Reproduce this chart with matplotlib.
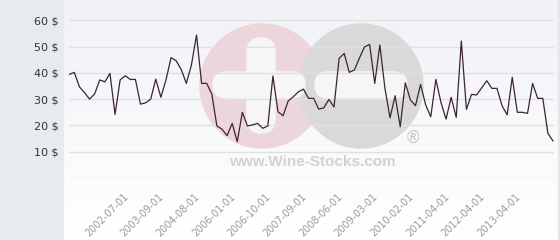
import numpy as np
import matplotlib
matplotlib.use('Agg')
import matplotlib.pyplot as plt
from matplotlib.patches import Circle, FancyBboxPatch, Rectangle
from matplotlib.transforms import ScaledTranslation

# prices per trade
prices = [39.4, 40.2, 34.7, 32.5, 30.0, 32.0, 37.3, 36.6, 39.8, 24.2,
          37.3, 38.9, 37.5, 37.5, 28.1, 28.6, 30.0, 37.6, 30.7, 37.3,
          45.8, 44.6, 41.3, 36.0, 43.0, 54.4, 36.0, 36.0, 31.9, 19.8,
          18.6, 16.1, 20.8, 13.8, 25.0, 19.8, 20.2, 20.8, 18.9, 19.8,
          38.8, 25.2, 23.7, 29.3, 30.9, 32.8, 33.8, 30.3, 30.3, 26.2,
          26.7, 29.9, 27.0, 45.5, 47.4, 40.2, 41.1, 45.7, 49.9, 50.8,
          36.0, 50.6, 34.1, 22.9, 31.3, 19.5, 36.2, 29.7, 27.5, 35.6,
          27.8, 23.3, 37.5, 28.8, 22.4, 30.7, 23.1, 52.1, 26.1, 31.8,
          31.6, 34.3, 37.0, 34.1, 34.1, 27.5, 24.0, 38.3, 25.0, 25.0,
          24.6, 36.0, 30.3, 30.3, 17.0, 14.1]
date_labels = ['2002-07-01', '2003-09-01', '2004-08-01', '2006-01-01',
               '2006-10-01', '2007-09-01', '2008-06-01', '2009-03-01',
               '2010-02-01', '2011-04-01', '2012-04-01', '2013-04-01']
label_idx = [10, 17, 24, 31, 38, 45, 52, 59, 66, 73, 80, 87]
y_ticks = [0, 10, 20, 30, 40, 50, 60]

W, H = 560, 240
fig = plt.figure(figsize=(W/100, H/100), dpi=100)

# background + watermark, in pixel coords
bg = fig.add_axes([0, 0, 1, 1])
bg.set_xlim(0, W)
bg.set_ylim(H, 0)
bg.axis('off')
grad = np.linspace(0, 1, 100).reshape(-1, 1)
bg.imshow(grad, extent=[63, W, H, 0], cmap=matplotlib.colors.LinearSegmentedColormap.from_list(
    'g', ['#f1f2f7', '#ffffff']), aspect='auto', zorder=0)
bg.add_patch(Rectangle((0, 0), 63, H, color='#e7ebee', zorder=1))
bg.add_patch(Rectangle((558, 0), 2, H, color='#e4e6ea', zorder=1))

bg.add_patch(Circle((262, 86), 62, color='#ecd6dc', zorder=2))
bg.add_patch(Circle((361, 86), 62, color='#d9d9d9', zorder=2))
wc = '#f6f6f9'
bg.add_patch(FancyBboxPatch((247, 38), 28, 95, boxstyle='round,pad=0,rounding_size=14',
                            color=wc, zorder=3))
bg.add_patch(FancyBboxPatch((213, 72), 92, 26, boxstyle='round,pad=0,rounding_size=13',
                            color=wc, zorder=3))
bg.add_patch(FancyBboxPatch((315, 72), 92, 26, boxstyle='round,pad=0,rounding_size=13',
                            color=wc, zorder=3))
bg.text(312, 162, 'www.Wine-Stocks.com', ha='center', va='center', fontsize=11,
        fontweight='bold', family='Liberation Sans', color='#d2d2d2', zorder=3)
bg.text(413, 138, '®', ha='center', va='center', fontsize=12,
        color='#c8c8c8', zorder=3)

# main chart
x = np.arange(len(prices))
ax = fig.add_axes([68.7/W, 1-178/H, (554-68.7)/W, (178-20.3)/H])
ax.set_facecolor('none')
ax.plot(x, prices, color='#3d2431', lw=0.9, zorder=3)
ax.set_xlim(-0.1, len(prices)-1+0.2)
ax.set_ylim(0, 60)
for s in ax.spines.values():
    s.set_visible(False)
ax.set_yticks(y_ticks)
ax.set_yticklabels(['' if v == 0 else f'{v} $' for v in y_ticks])
ax.yaxis.grid(True, color='#e0e0e0', lw=1)
ax.tick_params(axis='y', length=0, pad=7, labelsize=8, labelcolor='#333333')
ax.set_xticks(label_idx)
ax.set_xticklabels(date_labels, rotation=45, ha='right', rotation_mode='anchor')
ax.tick_params(axis='x', length=0, pad=9.5, labelsize=7, labelcolor='#9a9a9a')
off = ScaledTranslation(3/100, 0, fig.dpi_scale_trans)
for lab in ax.get_xticklabels():
    lab.set_transform(lab.get_transform() + off)
ax.set_axisbelow(True)

fig.savefig('out.png', dpi=100)
